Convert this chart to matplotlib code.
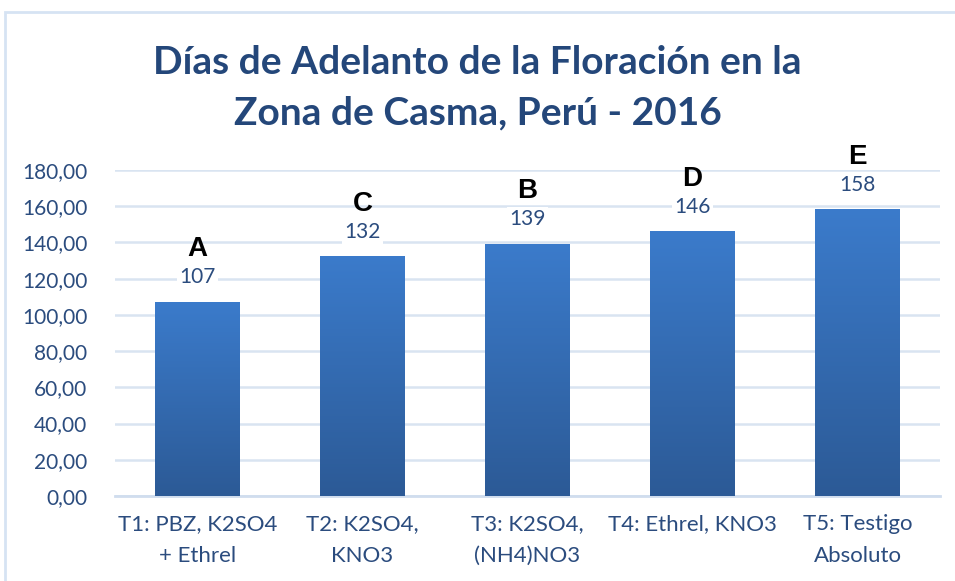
import numpy as np
import matplotlib.pyplot as plt
from matplotlib.patches import Rectangle
from matplotlib.colors import LinearSegmentedColormap

# datos
tratamientos = ['T1: PBZ, K2SO4\n+ Ethrel', 'T2: K2SO4,\nKNO3', 'T3: K2SO4,\n(NH4)NO3',
                'T4: Ethrel, KNO3', 'T5: Testigo\nAbsoluto']
dias = [107, 132, 139, 146, 158]
letras = ['A', 'C', 'B', 'D', 'E']
yticks = [0, 20, 40, 60, 80, 100, 120, 140, 160, 180]

azul_txt = '#2B4C7E'
plt.rcParams['font.family'] = ['Lato', 'DejaVu Sans']

fig = plt.figure(figsize=(9.55, 5.81), dpi=100)
ax = fig.add_axes([115/955, 1-496/581, 825/955, 326/581])

x = np.arange(len(dias))
ancho = 0.51
# barras con degradado vertical
grad = np.linspace(0, 1, 256).reshape(-1, 1)
cmap = LinearSegmentedColormap.from_list('b', ['#2C5A96', '#3B7BCB'])
barras = ax.bar(x, dias, width=ancho, color='none', zorder=3)
for b in barras:
    x0, y0 = b.get_x(), b.get_y()
    ax.imshow(grad, extent=[x0, x0 + b.get_width(), y0, y0 + b.get_height()],
              origin='lower', cmap=cmap, aspect='auto', zorder=3)

for xi, v, l in zip(x, dias, letras):
    ax.annotate(str(v), (xi, v), xytext=(0, 18), textcoords='offset points',
                ha='center', va='center', fontsize=15, color=azul_txt, zorder=5,
                bbox=dict(boxstyle='square,pad=0.1', fc='white', ec='none'))
    ax.annotate(l, (xi, v), xytext=(0, 38), textcoords='offset points',
                ha='center', va='center', fontsize=20, fontweight='bold',
                color='black', family=['Liberation Sans'], zorder=4)

ax.set_xlim(-0.5, 4.5)
ax.set_ylim(0, 180)
ax.set_yticks(yticks)
ax.set_yticklabels([f'{t},00' for t in yticks], fontsize=15, color=azul_txt)
ax.set_xticks(x)
ax.set_xticklabels(tratamientos, fontsize=16, color=azul_txt, linespacing=1.75)
ax.tick_params(length=0, pad=20)
ax.tick_params(axis='x', pad=13)
ax.grid(axis='y', color='#D9E4F1', linewidth=1.8, zorder=0)
for s in ['top', 'right', 'left']:
    ax.spines[s].set_visible(False)
ax.spines['bottom'].set_color('#D0DDEE')
ax.spines['bottom'].set_linewidth(2)
ax.set_axisbelow(True)

fig.text(0.5, 1-62/581, 'Días de Adelanto de la Floración en la', ha='center', va='center',
         fontsize=28, fontweight='bold', color='#24477A')
fig.text(0.5, 1-113/581, 'Zona de Casma, Perú - 2016', ha='center', va='center',
         fontsize=28, fontweight='bold', color='#24477A')

fig.patches.append(Rectangle((5/955, -0.1), 1.1, 1-12/581+0.1, transform=fig.transFigure,
                             fill=False, edgecolor='#D6E3F3', linewidth=2))

plt.savefig('out.png')
